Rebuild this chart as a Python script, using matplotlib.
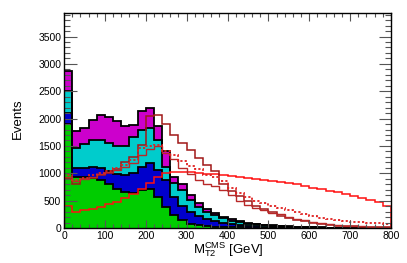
import numpy as np
import matplotlib
matplotlib.use("Agg")
import matplotlib.pyplot as plt
from matplotlib.ticker import MultipleLocator

plt.rcParams['font.family'] = ['Liberation Sans', 'DejaVu Sans']
plt.rcParams['mathtext.fontset'] = 'custom'
plt.rcParams['mathtext.rm'] = 'Liberation Sans'
plt.rcParams['mathtext.it'] = 'Liberation Sans'

# 20 GeV bins from 0 to 800
edges = np.arange(0, 820, 20)

# stacked backgrounds (bin contents per component)
green = np.array([1900, 940, 930, 910, 880, 800, 720, 660, 640, 690, 720, 560, 380, 230, 150, 70, 50, 35, 25, 18,
                  13, 10, 8, 6, 5, 4, 3, 2, 2, 1, 1, 1, 1, 0, 0, 0, 0, 0, 0, 0])
blue = np.array([200, 150, 170, 210, 210, 250, 260, 300, 360, 430, 460, 500, 490, 330, 250, 230, 170, 125, 95, 72,
                 55, 42, 32, 25, 19, 14, 11, 9, 6, 5, 4, 3, 2, 2, 2, 1, 1, 1, 1, 0])
cyan = np.array([400, 370, 430, 490, 510, 510, 520, 530, 670, 680, 650, 540, 250, 260, 300, 220, 170, 140, 110, 85,
                 67, 53, 42, 33, 26, 21, 16, 12, 10, 8, 6, 4, 3, 3, 2, 2, 1, 1, 0, 1])
magenta = np.array([370, 310, 300, 370, 470, 460, 460, 370, 220, 330, 370, 260, 280, 110, 100, 80, 60, 50, 40, 30,
                    25, 20, 15, 12, 10, 8, 7, 6, 5, 4, 3, 3, 2, 1, 1, 1, 1, 0, 1, 0])

# signal-like curves
sig_bright = np.array([400, 300, 330, 350, 390, 430, 480, 540, 620, 720, 820, 940, 1000, 1030, 1030, 1020, 1010, 990,
                       980, 960, 950, 930, 920, 900, 880, 860, 840, 820, 800, 770, 740, 710, 680, 650, 620, 590,
                       550, 510, 470, 410])
sig_tall = np.array([900, 800, 890, 920, 960, 1010, 1080, 1200, 1300, 1520, 2050, 2070, 1900, 1700, 1560, 1430, 1280,
                     1160, 1040, 800, 680, 580, 490, 410, 345, 290, 220, 180, 150, 120, 95, 75, 58, 45, 36, 28,
                     22, 17, 14, 11])
sig_mid = np.array([930, 850, 900, 930, 980, 1020, 1060, 1120, 1180, 1330, 1450, 1500, 1380, 1260, 1100, 980, 880,
                    800, 760, 700, 600, 500, 420, 370, 320, 280, 250, 200, 170, 140, 115, 92, 72, 56, 44, 35, 28,
                    22, 18, 15])
sig_dot = np.array([960, 870, 920, 960, 1000, 1050, 1100, 1160, 1250, 1460, 1490, 1520, 1400, 1340, 1220, 1130, 1070,
                    975, 930, 850, 740, 640, 560, 500, 450, 400, 370, 330, 290, 250, 220, 190, 160, 145, 130, 115,
                    105, 95, 85, 78])

fig = plt.figure(figsize=(4.07, 2.63), dpi=100)
ax = fig.add_axes([64 / 407, 1 - 228 / 263, 327 / 407, 215 / 263])

layers = [green, blue, cyan, magenta]
colors = ['#00cc00', '#0000cc', '#00cccc', '#cc00cc']
base = np.zeros(len(green))
tops = []
for vals, c in zip(layers, colors):
    top = base + vals
    ax.stairs(top, edges, baseline=base, fill=True, color=c, lw=0)
    tops.append(top)
    base = top
for top in tops:
    ax.stairs(top, edges, baseline=0, color='black', lw=1.3)

ax.stairs(sig_bright, edges, color='#ff1010', lw=1.1)
ax.stairs(sig_tall, edges, color='#a01818', lw=1.1)
ax.stairs(sig_mid, edges, color='#b82828', lw=1.0)
ax.stairs(sig_dot, edges, color='#e02020', lw=1.3, ls=(0, (1.2, 1.2)))

ax.set_xlim(0, 800)
ax.set_ylim(0, 3930)
ax.xaxis.set_major_locator(MultipleLocator(100))
ax.xaxis.set_minor_locator(MultipleLocator(20))
ax.yaxis.set_major_locator(MultipleLocator(500))
ax.yaxis.set_minor_locator(MultipleLocator(100))
ax.tick_params(which='both', direction='in', top=True, right=True, labelsize=7.5, width=0.8, color='#555555')
ax.tick_params(axis='x', which='major', length=6, pad=2)
ax.tick_params(axis='x', which='minor', length=3)
ax.tick_params(axis='y', which='major', length=9, pad=2)
ax.tick_params(axis='y', which='minor', length=4.5)
for s in ax.spines.values():
    s.set_linewidth(1.0)

fig.text(0.045, 0.55, 'Events', rotation=90, fontsize=9.5, ha='center', va='center')
fig.text(228 / 407, 1 - 250 / 263, r'M$_{\mathrm{T2}}^{\mathrm{CMS}}$ [GeV]', fontsize=9.5, ha='center', va='center')

fig.savefig('out.png', dpi=100)
